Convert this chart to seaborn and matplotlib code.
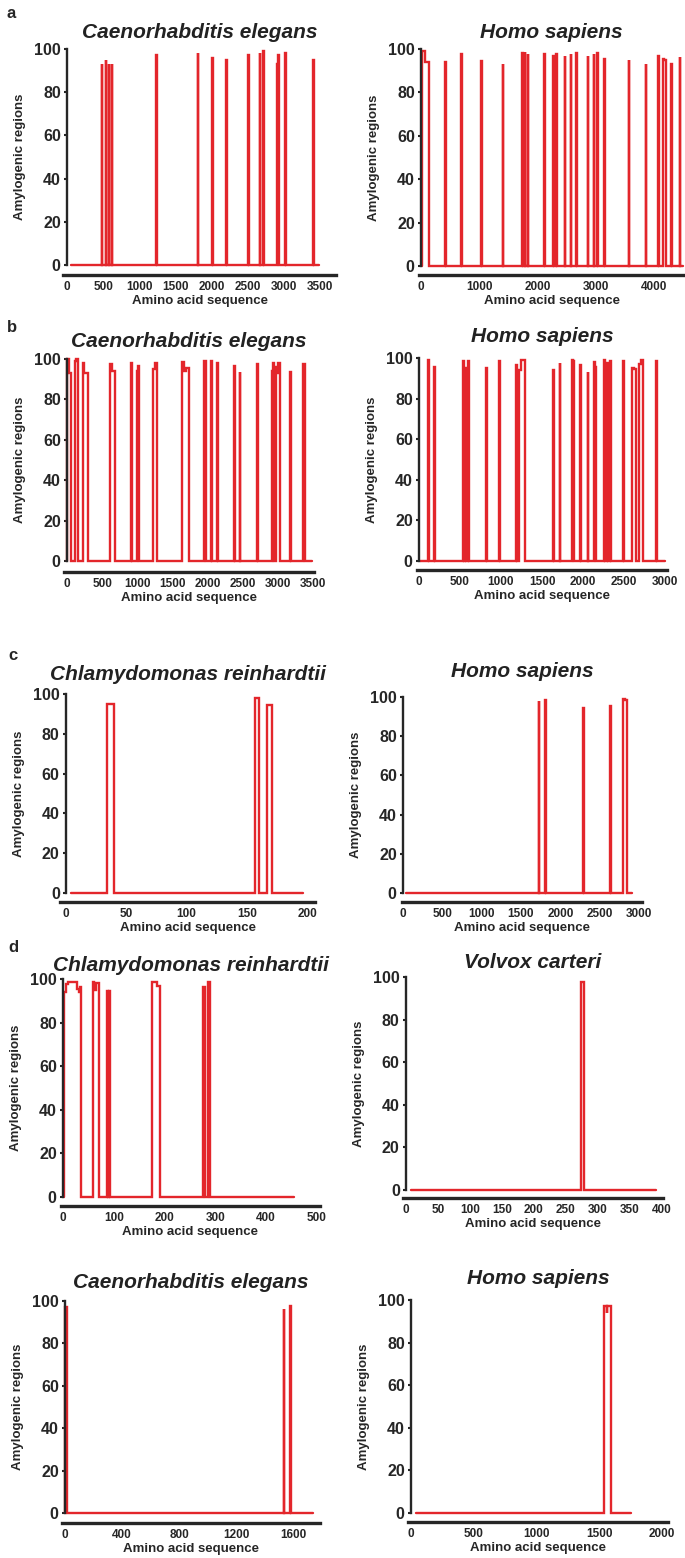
import matplotlib
matplotlib.use('Agg')
import matplotlib.pyplot as plt
import seaborn as sns
import pandas as pd

# amylogenic profiles: each peak is (start, end, score) along the sequence
# a - Caenorhabditis elegans
ce_a_span = (60, 3490)
ce_a_starts = [480, 535, 582, 618, 1236, 1807, 2010, 2204, 2504, 2664, 2711, 2909, 2913, 3015, 3398]
ce_a_ends = [484, 544, 586, 622, 1244, 1816, 2019, 2213, 2512, 2670, 2720, 2913, 2932, 3033, 3411]
ce_a_scores = [93, 95, 93, 93, 97, 98, 96, 95, 97, 98, 99, 93, 97, 98, 95]

# a - Homo sapiens
hs_a_span = (20, 4498)
hs_a_starts = [25, 65, 418, 694, 1035, 1400, 1738, 1787, 1833, 2117, 2265, 2312, 2329, 2464,
               2570, 2664, 2864, 2966, 3020, 3146, 3564, 3858, 4069, 4152, 4175, 4299, 4440]
hs_a_ends = [65, 129, 429, 705, 1046, 1411, 1744, 1793, 1839, 2128, 2277, 2329, 2334, 2475,
             2581, 2675, 2875, 2976, 3031, 3157, 3575, 3869, 4080, 4175, 4198, 4310, 4451]
hs_a_scores = [99, 94, 94, 97.5, 94.5, 93, 98, 98.5, 97.5, 97.5, 97, 97.5, 93, 97,
               97.5, 98, 97, 97.5, 98, 95.5, 95, 93, 97, 95.5, 95, 93, 96.5]

# b - Caenorhabditis elegans
ce_b_span = (0, 3491)
ce_b_starts = [0, 24, 119, 135, 229, 247, 618, 641, 908, 1003, 1015, 1226, 1245, 1630, 1662,
               1700, 1953, 2048, 2133, 2380, 2456, 2699, 2912, 2930, 2968, 2990, 3000, 3174, 3364]
ce_b_ends = [24, 56, 135, 151, 247, 294, 641, 688, 925, 1015, 1030, 1245, 1277, 1662, 1700,
             1742, 1980, 2065, 2151, 2388, 2464, 2716, 2930, 2942, 2990, 3000, 3025, 3182, 3381]
ce_b_scores = [100, 93, 99, 100, 98, 93, 97.5, 94, 98, 94, 96.5, 95, 98, 98.5, 94,
               95.5, 99, 99, 98, 96.5, 93.5, 97.5, 94, 98, 96, 93, 98, 93.5, 97.5]

# b - Homo sapiens
hs_b_span = (12, 3000)
hs_b_starts = [115, 188, 540, 565, 598, 818, 980, 1184, 1224, 1244, 1639, 1716, 1867, 1880,
               1968, 2058, 2139, 2145, 2261, 2292, 2328, 2493, 2598, 2620, 2688, 2710, 2891]
hs_b_ends = [121, 194, 548, 575, 610, 824, 987, 1190, 1244, 1292, 1645, 1723, 1880, 1889,
             1975, 2064, 2145, 2154, 2267, 2300, 2337, 2499, 2620, 2641, 2710, 2731, 2897]
hs_b_scores = [99, 95.5, 98.5, 95, 98.5, 95, 98.5, 96.5, 94, 99, 94, 97.5, 99, 98.5,
               96.5, 93, 98, 95.5, 99, 97.5, 98.5, 98.5, 95, 94.5, 97, 99, 98.5]

# c - Chlamydomonas reinhardtii
cr_c_span = (4, 197)
cr_c_starts = [34, 157, 166.5]
cr_c_ends = [39.5, 160.5, 171]
cr_c_scores = [95, 98, 94.5]

# c - Homo sapiens
hs_c_span = (40, 2912)
hs_c_starts = [1723, 1808, 2282, 2625, 2638, 2798, 2823]
hs_c_ends = [1731, 1816, 2298, 2638, 2650, 2823, 2853]
hs_c_scores = [98, 98.5, 94.5, 95.5, 93, 99, 98.5]

# d - Chlamydomonas reinhardtii
cr_d_span = (2, 454)
cr_d_starts = [2, 6, 10, 27, 31, 33, 59, 62, 64, 86, 91, 175, 185, 276, 285]
cr_d_ends = [6, 10, 27, 31, 33, 36, 62, 64, 71, 88, 93, 185, 190.5, 279.5, 289]
cr_d_scores = [94, 97.5, 98.5, 95.5, 94, 96.5, 98.5, 95, 98, 94.5, 94.5, 98.5, 97, 96.5, 98.5]

# d - Volvox carteri
vc_d_span = (8, 391)
vc_d_starts = [273.6]
vc_d_ends = [278.4]
vc_d_scores = [97.5]

# d - Caenorhabditis elegans
ce_d_span = (0, 1740)
ce_d_starts = [0, 1535, 1577]
ce_d_ends = [13, 1540, 1584]
ce_d_scores = [97, 96, 97.5]

# d - Homo sapiens
hs_d_span = (40, 1751)
hs_d_starts = [1541, 1558, 1562]
hs_d_ends = [1558, 1562, 1590]
hs_d_scores = [97, 94, 97]

yticks = [0, 20, 40, 60, 80, 100]
red = '#e3262b'


def profile(span, starts, ends, scores):
    """step outline: baseline at 0, jumps up to each peak score"""
    xs, ys = [span[0]], [0]
    n = len(starts)
    for i in range(n):
        s, e, h = starts[i], ends[i], scores[i]
        if i == 0 or starts[i] != ends[i - 1]:
            xs.append(s); ys.append(0)
        xs += [s, e]; ys += [h, h]
        if i == n - 1 or starts[i + 1] != e:
            xs.append(e); ys.append(0)
    xs.append(span[1]); ys.append(0)
    return pd.DataFrame({'pos': xs, 'score': ys})


sns.set_style('ticks')
plt.rcParams['font.family'] = ['Liberation Sans', 'DejaVu Sans']

W, H = 685, 1558
fig = plt.figure(figsize=(W / 100, H / 100), dpi=100)

# (title, data, xticks, zero_px, last_tick_px, line_left, line_right, y100, y0, line_y, title_y)
panels = [
    ('Caenorhabditis elegans', (ce_a_span, ce_a_starts, ce_a_ends, ce_a_scores),
     range(0, 3501, 500), 67, 320, 63, 336, 49, 265, 275, 33),
    ('Homo sapiens', (hs_a_span, hs_a_starts, hs_a_ends, hs_a_scores),
     range(0, 4001, 1000), 421, 654, 419, 684, 49, 266, 275, 33),
    ('Caenorhabditis elegans', (ce_b_span, ce_b_starts, ce_b_ends, ce_b_scores),
     range(0, 3501, 500), 67, 313, 64, 314, 359, 561, 572, 342),
    ('Homo sapiens', (hs_b_span, hs_b_starts, hs_b_ends, hs_b_scores),
     range(0, 3001, 500), 419, 665, 417, 667, 358, 561, 570, 337),
    ('Chlamydomonas reinhardtii', (cr_c_span, cr_c_starts, cr_c_ends, cr_c_scores),
     range(0, 201, 50), 66, 307, 60, 315, 694, 893, 902, 675),
    ('Homo sapiens', (hs_c_span, hs_c_starts, hs_c_ends, hs_c_scores),
     range(0, 3001, 500), 403, 639, 402, 642, 697, 893, 902, 672),
    ('Chlamydomonas reinhardtii', (cr_d_span, cr_d_starts, cr_d_ends, cr_d_scores),
     range(0, 501, 100), 63, 317, 61, 320, 979, 1197, 1206, 965),
    ('Volvox carteri', (vc_d_span, vc_d_starts, vc_d_ends, vc_d_scores),
     range(0, 401, 50), 406, 662, 403, 663, 977, 1190, 1198, 962),
    ('Caenorhabditis elegans', (ce_d_span, ce_d_starts, ce_d_ends, ce_d_scores),
     range(0, 1601, 400), 65, 293, 62, 320, 1301, 1513, 1523, 1283),
    ('Homo sapiens', (hs_d_span, hs_d_starts, hs_d_ends, hs_d_scores),
     range(0, 2001, 500), 411, 662, 408, 668, 1300, 1513, 1522, 1278),
]

for (title, data, xticks, zero_px, tick_px, line_l, line_r,
     y100, y0, line_y, title_y) in panels:
    upp = xticks[-1] / (tick_px - zero_px)
    ax = fig.add_axes([line_l / W, 1 - y0 / H, (line_r - line_l) / W, (y0 - y100) / H])
    df = profile(*data)
    sns.lineplot(data=df, x='pos', y='score', sort=False, estimator=None, ax=ax,
                 color=red, linewidth=1.7, clip_on=False, solid_joinstyle='miter')
    ax.set_xlim((line_l - zero_px) * upp, (line_r - zero_px) * upp)
    ax.set_ylim(0, 100)
    ax.set_xticks(list(xticks))
    ax.set_yticks(yticks)
    ax.spines[['top', 'right']].set_visible(False)
    ax.spines['left'].set_position(('data', 0))
    ax.spines['left'].set_linewidth(1.7)
    ax.spines['bottom'].set_position(('outward', (line_y - y0) * 0.72))
    ax.spines['bottom'].set_linewidth(2.4)
    ax.tick_params(axis='y', length=2.5, width=1.5, pad=2, labelsize=11.5)
    ax.tick_params(axis='x', length=0, pad=4.5, labelsize=8.5)
    for lab in ax.get_xticklabels() + ax.get_yticklabels():
        lab.set_fontweight('bold')
    ax.set_xlabel('Amino acid sequence', fontsize=9.5, fontweight='bold', labelpad=1.5)
    ax.set_ylabel('Amylogenic regions', fontsize=9.5, fontweight='bold')
    ax.yaxis.set_label_coords((zero_px - 41 - line_l) / (line_r - line_l), 0.5)
    ax.set_title(title, fontsize=15, fontweight='bold', fontstyle='italic', color='#222222',
                 y=(y0 - title_y) / (y0 - y100), va='center', pad=0)

for letter, x, y in [('a', 11, 14), ('b', 12, 327), ('c', 13, 656), ('d', 13, 948)]:
    fig.text(x / W, 1 - y / H, letter, fontsize=12, fontweight='bold', ha='center', va='center')

fig.savefig('out.png', dpi=100)
